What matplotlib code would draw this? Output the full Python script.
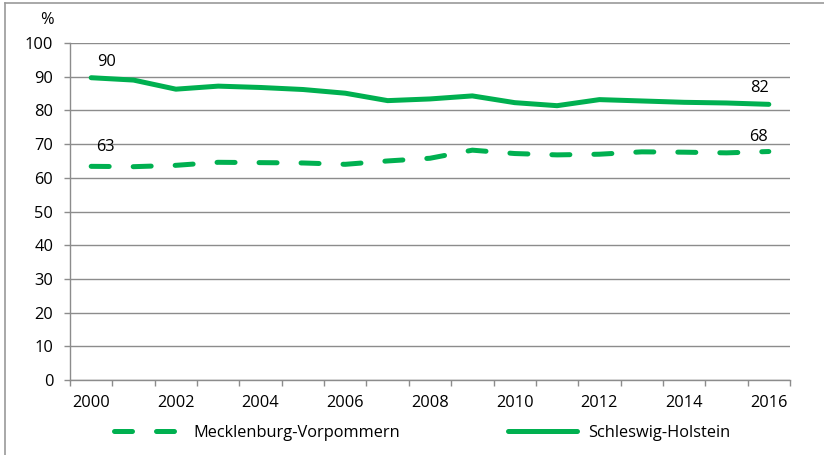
import matplotlib
matplotlib.use("Agg")
import matplotlib.pyplot as plt
from matplotlib.lines import Line2D
import numpy as np

plt.rcParams["font.family"] = ["Open Sans", "DejaVu Sans"]

years = list(range(2000, 2017))
mv_values = [63.4, 63.3, 63.7, 64.6, 64.5, 64.4, 64.0, 65.0, 65.8,
             68.2, 67.2, 66.8, 67.0, 67.7, 67.6, 67.4, 67.8]
sh_values = [89.7, 89.0, 86.3, 87.2, 86.8, 86.2, 85.1, 82.9, 83.4,
             84.3, 82.3, 81.4, 83.2, 82.8, 82.4, 82.2, 81.8]
series_names = ["Mecklenburg-Vorpommern", "Schleswig-Holstein"]
y_ticks = list(range(0, 101, 10))
x_labels = [str(y) for y in years[::2]]

GREEN = "#00B050"
GRID = "#8C8C8C"
FS = 11.8

W, H = 824, 455
fig = plt.figure(figsize=(W / 100, H / 100), dpi=100)
ax = fig.add_axes([70 / W, 75 / H, 720 / W, 337 / H])

x = np.arange(len(years))
mv_line, = ax.plot(x, mv_values, color=GREEN, lw=3.6, solid_capstyle="round",
                   dash_capstyle="round", zorder=3)
mv_line.set_dashes((3.6, 4.8))
sh_line, = ax.plot(x, sh_values, color=GREEN, lw=3.6, solid_capstyle="round",
                   zorder=3)

ax.set_xlim(-0.5, len(years) - 0.5)
ax.set_ylim(0, 100)

# y axis
ax.set_yticks(y_ticks)
ax.set_yticklabels([str(t) for t in y_ticks], fontsize=FS)
ax.tick_params(axis="y", length=4, width=1, color=GRID, pad=8)
ax.yaxis.grid(True, color=GRID, lw=1.0)
ax.set_axisbelow(True)

# x axis: labels on category centres, tick marks on category boundaries
ax.set_xticks(x[::2])
ax.set_xticklabels(x_labels, fontsize=FS)
ax.set_xticks(np.arange(-0.5, len(years), 1.0), minor=True)
ax.tick_params(axis="x", which="major", length=0, pad=11)
ax.tick_params(axis="x", which="minor", length=4, width=1, color=GRID)

for side in ("top", "right"):
    ax.spines[side].set_visible(False)
for side in ("left", "bottom"):
    ax.spines[side].set_color(GRID)
    ax.spines[side].set_linewidth(1.0)

fig.text(47 / W, 1 - 20 / H, "%", fontsize=FS, ha="center", va="center")

# value labels at the first and last year
label_specs = [
    (mv_values, 0, (14, 19)),
    (mv_values, len(years) - 1, (-10, 15)),
    (sh_values, 0, (15, 16)),
    (sh_values, len(years) - 1, (-9, 16)),
]
for vals, i, (dx, dy) in label_specs:
    ax.annotate(f"{vals[i]:.0f}", (x[i], vals[i]), xytext=(dx, dy),
                textcoords="offset pixels", ha="center", va="center",
                fontsize=FS, zorder=4)

leg = fig.legend([mv_line, sh_line], series_names, loc="center",
                 bbox_to_anchor=(422 / W, 22 / H), ncol=2, frameon=False,
                 fontsize=FS, handlelength=4.2, handletextpad=0.65,
                 columnspacing=6.6)

# outer frame (top and left edges)
fig.add_artist(Line2D([5 / W, 1], [1 - 3 / H, 1 - 3 / H], color="#9A9A9A",
                      lw=1.2, transform=fig.transFigure))
fig.add_artist(Line2D([5 / W, 5 / W], [0, 1 - 3 / H], color="#9A9A9A",
                      lw=1.2, transform=fig.transFigure))

fig.savefig("out.png", dpi=100)
